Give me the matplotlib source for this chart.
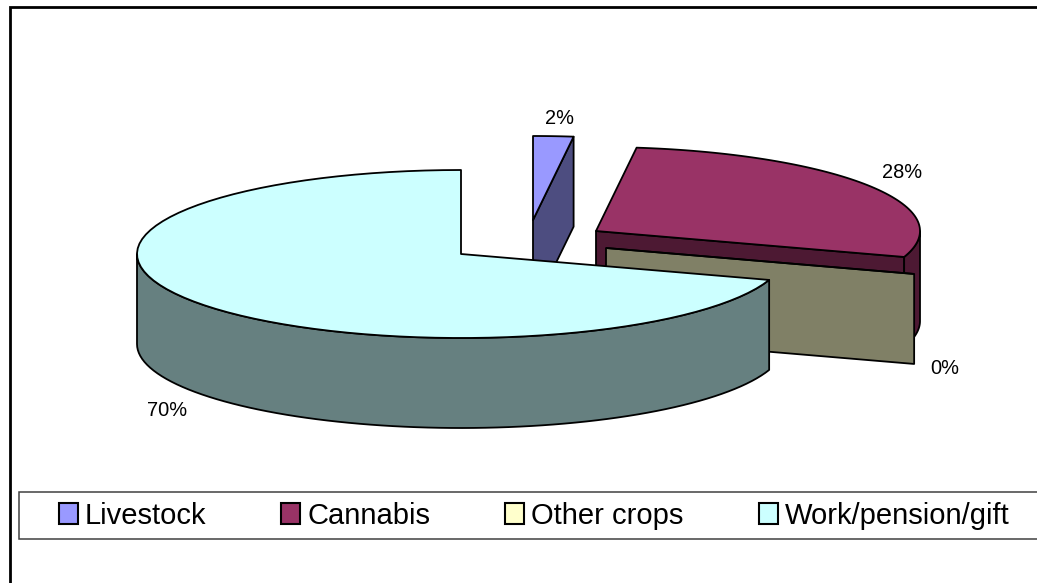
import numpy as np
import matplotlib
matplotlib.use("Agg")
import matplotlib.pyplot as plt
from matplotlib.patches import Polygon, Patch, Rectangle

plt.rcParams['font.family'] = ['Liberation Sans', 'DejaVu Sans']

# Income sources, share in percent
sources = ['Livestock', 'Cannabis', 'Other crops', 'Work/pension/gift']
shares = [2, 28, 0, 70]
top_colors = ['#9999FF', '#993366', '#FFFFCC', '#CCFFFF']
side_colors = ['#4D4D80', '#4D1933', '#808066', '#668080']

# Pie projection in figure pixels
RX, RY, DEPTH = 324, 84, 90
centers = [(533, 220), (596, 231), (606, 248), (461, 254)]
label_pos = [(560, 118), (902, 172), (945, 369), (167, 410)]
EDGE = dict(edgecolor='black', linewidth=1.3, joinstyle='round')


def rim(cx, cy, a, b, n=80):
    # clockwise angle from 12 o'clock, in degrees
    t = np.radians(np.linspace(a, b, n))
    return np.column_stack([cx + RX * np.sin(t), cy - RY * np.cos(t)])


fig = plt.figure(figsize=(10.37, 5.83), dpi=100)
ax = fig.add_axes([0, 0, 1, 1])
ax.set_xlim(0, 1037)
ax.set_ylim(583, 0)
ax.axis('off')

# chart frame, only top and left fall inside the image
ax.plot([10, 10, 1037], [583, 7, 7], color='black', lw=2.0, solid_joinstyle='miter')

bounds = np.concatenate([[0], np.cumsum(shares)]) * 3.6
drop = np.array([0, DEPTH])

for i in range(len(shares)):
    cx, cy = centers[i]
    a, b = bounds[i], bounds[i + 1]

    # cut face at the clockwise end of the slice
    if 0 < b < 180:
        end = rim(cx, cy, b, b, 1)[0]
        ax.add_patch(Polygon([(cx, cy), end, end + drop, (cx, cy + DEPTH)],
                             facecolor=side_colors[i], **EDGE))

    # outer wall, front half of the ellipse only
    lo, hi = max(a, 90), min(b, 270)
    if hi > lo:
        arc = rim(cx, cy, lo, hi)
        wall = np.vstack([arc, (arc + drop)[::-1]])
        ax.add_patch(Polygon(wall, facecolor=side_colors[i], **EDGE))

    top = np.vstack([[(cx, cy)], rim(cx, cy, a, b)])
    ax.add_patch(Polygon(top, facecolor=top_colors[i], **EDGE))

for (x, y), s in zip(label_pos, shares):
    ax.text(x, y, f'{s}%', fontsize=14.4, color='black', ha='center', va='center')

# legend strip runs past the right edge
ax.add_patch(Rectangle((19, 492), 1030, 46.5, facecolor='white',
                       edgecolor='#404040', linewidth=1.1))
handles = [Patch(facecolor=c, edgecolor='black', linewidth=1.5, label=s)
           for c, s in zip(top_colors, sources)]
ax.legend(handles=handles, ncol=4, loc='center left', frameon=False,
          bbox_to_anchor=(59, 515.5), bbox_transform=ax.transData,
          borderaxespad=0, borderpad=0, fontsize=21,
          handlelength=0.65, handleheight=0.72, handletextpad=0.24,
          columnspacing=2.57, labelspacing=0)

fig.savefig('out.png', dpi=100)
